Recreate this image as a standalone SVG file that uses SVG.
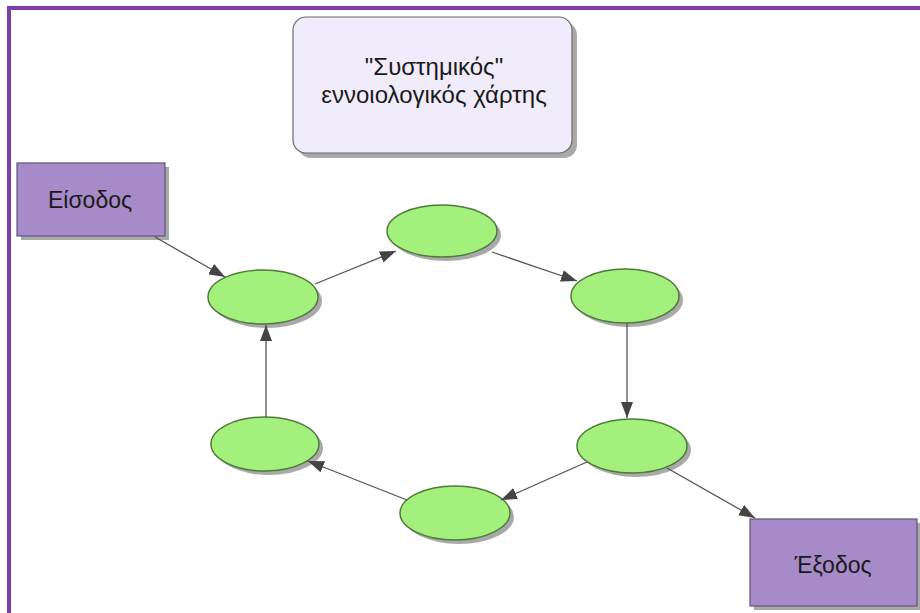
<svg xmlns="http://www.w3.org/2000/svg" width="920" height="613" viewBox="0 0 920 613">
  <defs>
    <marker id="arrow" viewBox="0 0 16 12" refX="16" refY="6" markerWidth="16" markerHeight="12" markerUnits="userSpaceOnUse" orient="auto">
      <path d="M0,0 L16,6 L0,12 z" fill="#444444"/>
    </marker>
  </defs>
  <style>
    .frame { stroke: #7b3fa6; stroke-width: 4; fill: none; }
    .shadow { fill: #8c8c8c; opacity: 0.75; }
    .node { fill: #a3f07c; stroke: #4f7a3a; stroke-width: 1.5; }
    .io { fill: #a68bc8; stroke: #5f5478; stroke-width: 1.2; }
    .title { fill: #f1ecfb; stroke: #6a6a6a; stroke-width: 1.2; }
    .label { font-family: "Liberation Sans", Arial, sans-serif; font-size: 23px; fill: #1a1a1a; text-anchor: middle; }
    .big { font-size: 24px; }
    .edge { stroke: #555555; stroke-width: 1.3; fill: none; marker-end: url(#arrow); }
  </style>

  <rect width="920" height="613" fill="#ffffff"/>
  <path class="frame" d="M9,613 L9,8 L920,8"/>

  <g id="title">
    <rect class="shadow" x="298" y="22" width="279" height="136" rx="13"/>
    <rect class="title" x="293" y="17" width="279" height="136" rx="13"/>
    <text class="label big" x="434" y="75">"Συστημικός"</text>
    <text class="label big" x="434" y="103">εννοιολογικός χάρτης</text>
  </g>

  <g id="input">
    <rect class="shadow" x="21" y="167" width="148" height="73"/>
    <rect class="io" x="17" y="163" width="148" height="73"/>
    <text class="label" x="90" y="208">Είσοδος</text>
  </g>

  <g id="output">
    <rect class="shadow" x="754" y="523" width="167" height="87"/>
    <rect class="io" x="750" y="519" width="167" height="87"/>
    <text class="label" x="833" y="573">Έξοδος</text>
  </g>

  <g id="n1">
    <ellipse class="shadow" cx="267" cy="301" rx="55" ry="27"/>
    <ellipse class="node" cx="263" cy="297" rx="55" ry="27"/>
  </g>
  <g id="n2">
    <ellipse class="shadow" cx="446" cy="235" rx="55" ry="26"/>
    <ellipse class="node" cx="442" cy="231" rx="55" ry="26"/>
  </g>
  <g id="n3">
    <ellipse class="shadow" cx="629" cy="300" rx="54" ry="27"/>
    <ellipse class="node" cx="625" cy="296" rx="54" ry="27"/>
  </g>
  <g id="n4">
    <ellipse class="shadow" cx="636" cy="450" rx="55" ry="27"/>
    <ellipse class="node" cx="632" cy="446" rx="55" ry="27"/>
  </g>
  <g id="n5">
    <ellipse class="shadow" cx="459" cy="517" rx="55" ry="27"/>
    <ellipse class="node" cx="455" cy="513" rx="55" ry="27"/>
  </g>
  <g id="n6">
    <ellipse class="shadow" cx="269" cy="448" rx="54" ry="27"/>
    <ellipse class="node" cx="265" cy="444" rx="54" ry="27"/>
  </g>

  <g id="connectors">
    <line class="edge" x1="155" y1="237" x2="225" y2="277"/>
    <line class="edge" x1="315" y1="284" x2="396" y2="251"/>
    <line class="edge" x1="492" y1="252" x2="577" y2="281"/>
    <line class="edge" x1="627" y1="323" x2="627" y2="418"/>
    <line class="edge" x1="667" y1="468" x2="755" y2="518"/>
    <line class="edge" x1="587" y1="462" x2="501" y2="500"/>
    <line class="edge" x1="407" y1="500" x2="308" y2="461"/>
    <line class="edge" x1="266" y1="417" x2="266" y2="325"/>
  </g>
</svg>
